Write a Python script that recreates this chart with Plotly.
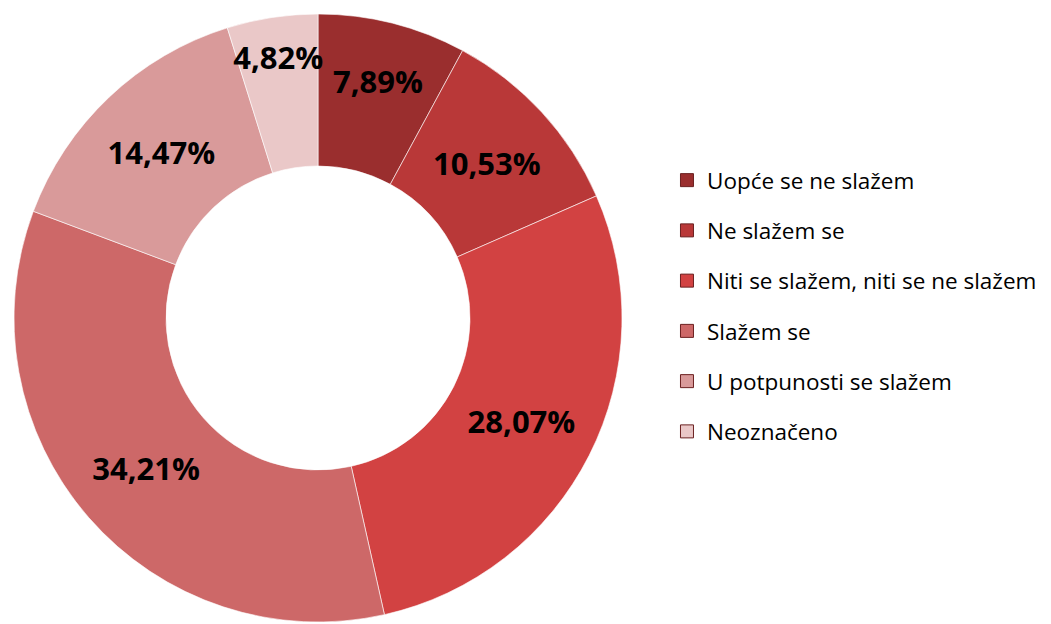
import plotly.graph_objects as go

categories = ["Uopće se ne slažem", "Ne slažem se", "Niti se slažem, niti se ne slažem",
              "Slažem se", "U potpunosti se slažem", "Neoznačeno"]
values = [7.89, 10.53, 28.07, 34.21, 14.47, 4.82]
labels_text = ["7,89%", "10,53%", "28,07%", "34,21%", "14,47%", "4,82%"]
colors = ["#9A2E2E", "#B93838", "#D24242", "#CD6868", "#D99A9A", "#EAC8C8"]

W, H = 1051, 624
fig = go.Figure()
fig.add_trace(go.Pie(
    labels=categories, values=values, text=labels_text,
    texttemplate="%{text}", textposition="inside", insidetextorientation="horizontal",
    textfont=dict(family="Open Sans", size=31, color="black", weight="bold"),
    hole=0.5, sort=False, direction="clockwise", rotation=0,
    marker=dict(colors=colors, line=dict(color="rgba(255,255,255,0.6)", width=1)),
    domain=dict(x=[6 / W, 614 / W], y=[(H - 614) / H, (H - 6) / H]),
    showlegend=False,
))
for i, (c, col) in enumerate(zip(categories, colors)):
    fig.add_trace(go.Scatter(
        x=[None], y=[None], mode="markers", name=c, legendgroup=f"g{i}",
        marker=dict(symbol="square", size=13, color=col, line=dict(color="#6b2020", width=1)),
    ))

fig.update_layout(
    width=W, height=H, margin=dict(l=0, r=0, t=0, b=0),
    paper_bgcolor="white", plot_bgcolor="white",
    xaxis=dict(visible=False), yaxis=dict(visible=False),
    uniformtext=dict(minsize=31, mode="show"),
    legend=dict(x=0.627, y=1 - 151 / H, xanchor="left", yanchor="top",
                font=dict(family="Open Sans", size=22.5, color="black"),
                tracegroupgap=18, itemwidth=30, traceorder="grouped"),
)
fig.write_html("out.html")
